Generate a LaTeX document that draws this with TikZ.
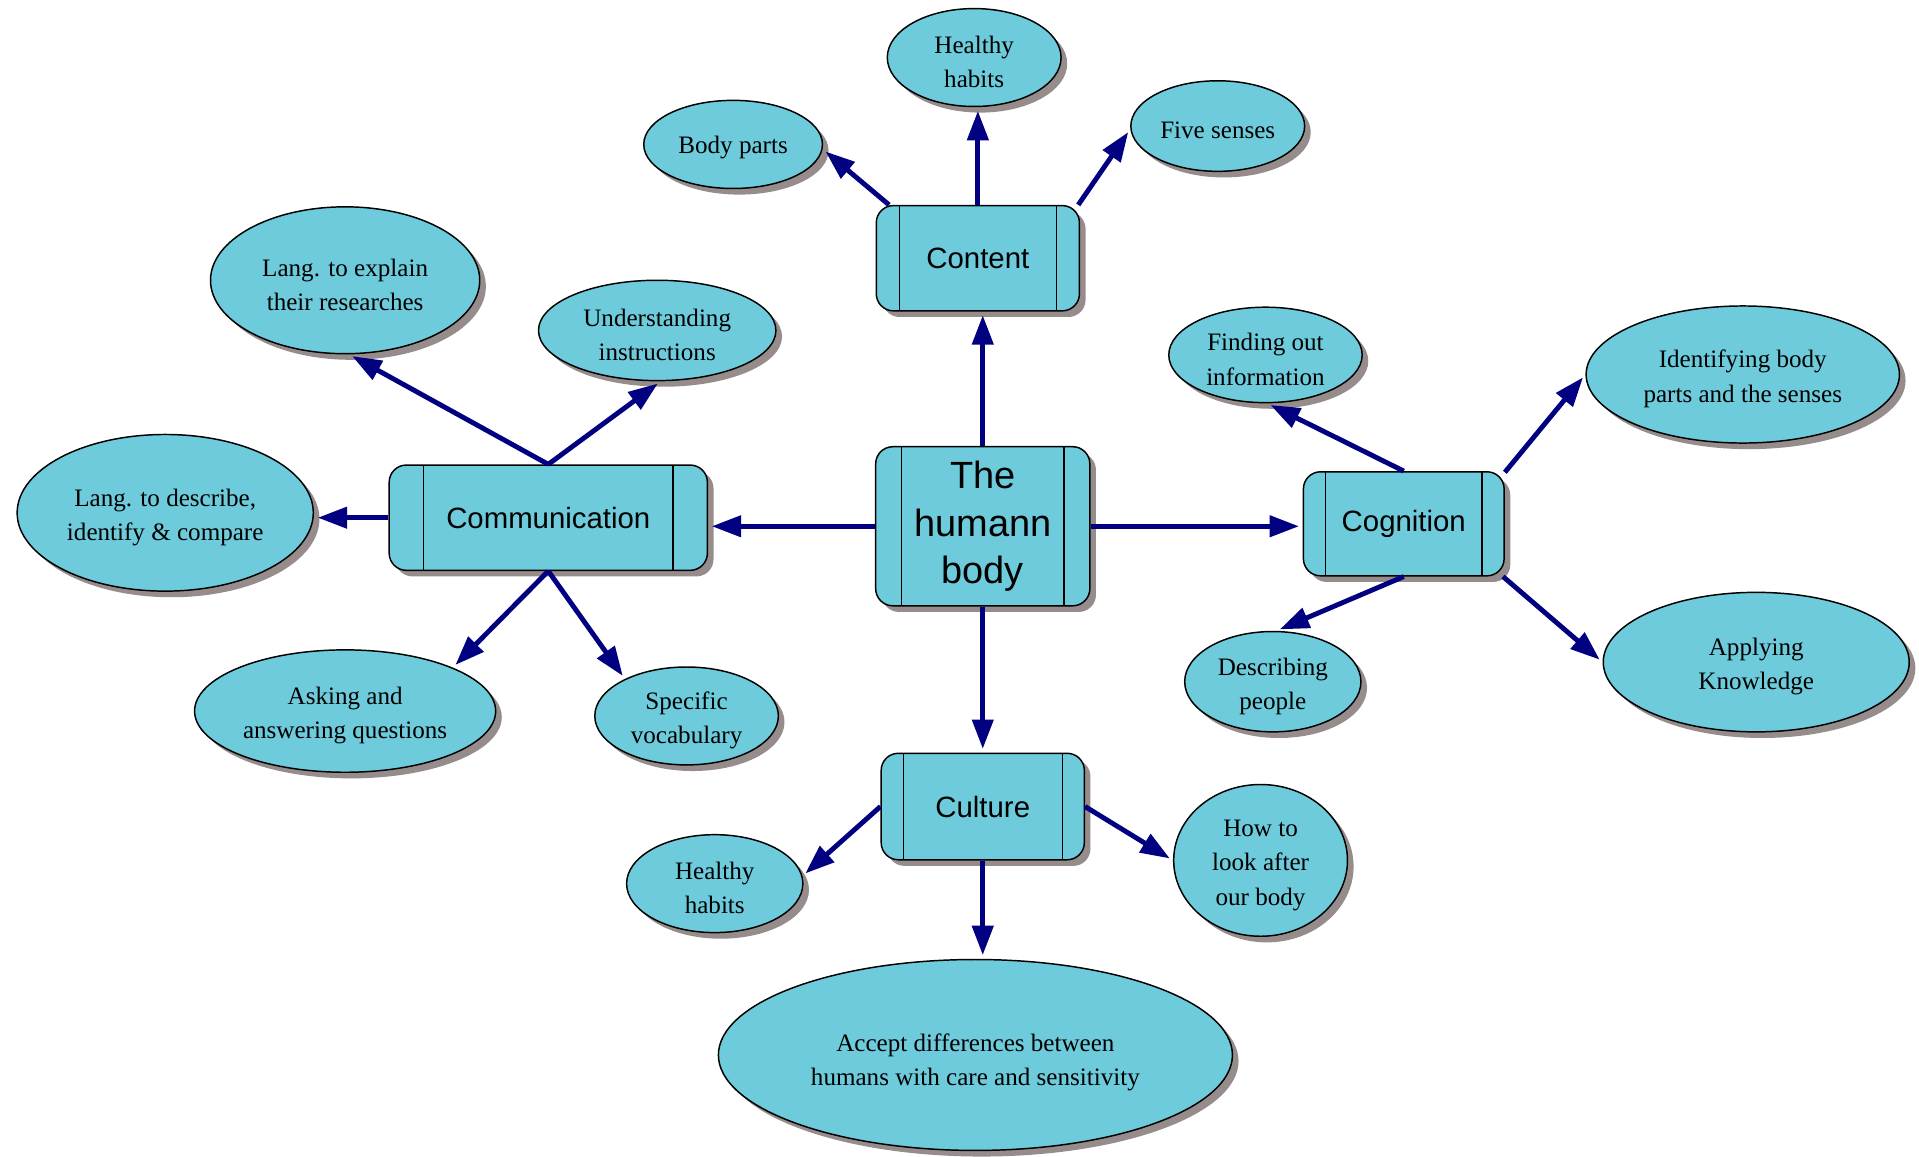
\documentclass[tikz,border=0pt]{standalone}
\usepackage{fontspec}
\setmainfont{Liberation Serif}
\setsansfont{Liberation Sans}
\usetikzlibrary{shapes.geometric,shadows,arrows.meta}
\definecolor{nodefill}{HTML}{6DCBDB}
\definecolor{shadowc}{HTML}{968C8C}
\definecolor{edgec}{HTML}{000080}
\newcommand\topstrut{\rule{0pt}{21.6pt}}
\tikzset{
  myshadow/.style={drop shadow={shadow xshift=5pt,shadow yshift=-5pt,fill=shadowc,opacity=1}},
  boxnode/.style={draw=black, line width=1.2pt, fill=nodefill, rounded corners=14pt,
    myshadow, inner sep=0pt, align=center,
    font=\sffamily\fontsize{24}{28}\selectfont,
    path picture={
      \draw[line width=1.1pt] ([xshift=#1]path picture bounding box.north west) -- ([xshift=#1]path picture bounding box.south west);
      \draw[line width=1.1pt] ([xshift=-#1]path picture bounding box.north east) -- ([xshift=-#1]path picture bounding box.south east);
    }},
  leaf/.style={ellipse, draw=black, line width=1.2pt, fill=nodefill, myshadow,
    inner sep=0pt, align=center, font=\rmfamily\fontsize{20.5}{28}\selectfont},
  oneline/.style={execute at begin node={\rule{0pt}{20pt}}},
  edge/.style={draw=edgec, line width=4pt, shorten >=3pt,
    -{Triangle[length=24pt,width=17pt]}}
}
\begin{document}
\begin{tikzpicture}[x=1pt,y=-1pt]
\useasboundingbox (0,0) rectangle (1568,945);
\fill[white] (0,0) rectangle (1568,945);

% main boxes
\node[boxnode=21pt, minimum width=175pt, minimum height=130pt,
  font=\sffamily\fontsize{31}{38.5}\selectfont] (hub) at (803,430) {The\\humann\\body};
\node[boxnode=19pt, minimum width=166pt, minimum height=86pt] (content) at (799,211) {Content};
\node[boxnode=28pt, minimum width=260pt, minimum height=86pt] (comm) at (448,423) {Communication};
\node[boxnode=18pt, minimum width=164pt, minimum height=85pt] (cog) at (1147,428) {Cognition};
\node[boxnode=18pt, minimum width=166pt, minimum height=87pt] (cult) at (803,659) {Culture};

% leaves
\node[leaf, minimum width=142pt, minimum height=80pt] (habitsA) at (796,47) {\topstrut Healthy\\habits};
\node[leaf, oneline, minimum width=146pt, minimum height=72pt] (bodyparts) at (599,118) {Body parts};
\node[leaf, oneline, minimum width=142pt, minimum height=74pt] (fivesenses) at (995,103) {Five senses};
\node[leaf, minimum width=220pt, minimum height=120pt] (langexp) at (282,229) {\topstrut Lang. to explain\\their researches};
\node[leaf, minimum width=194pt, minimum height=82pt] (underst) at (537,270) {\topstrut Understanding\\instructions};
\node[leaf, minimum width=242pt, minimum height=128pt] (langdesc) at (135,419) {\topstrut Lang. to describe,\\identify \& compare};
\node[leaf, minimum width=246pt, minimum height=100pt] (asking) at (282,581) {\topstrut Asking and\\answering questions};
\node[leaf, minimum width=150pt, minimum height=80pt] (specific) at (561,585) {\topstrut Specific\\vocabulary};
\node[leaf, minimum width=158pt, minimum height=78pt] (finding) at (1034,290) {\topstrut Finding out\\information};
\node[leaf, minimum width=256pt, minimum height=112pt] (identify) at (1424,306) {\topstrut Identifying body\\parts and the senses};
\node[leaf, minimum width=144pt, minimum height=82pt] (describing) at (1040,557) {\topstrut Describing\\people};
\node[leaf, minimum width=250pt, minimum height=114pt] (applying) at (1435,541) {\topstrut Applying\\Knowledge};
\node[leaf, minimum width=144pt, minimum height=80pt] (habitsB) at (584,722) {\topstrut Healthy\\habits};
\node[leaf, minimum width=142pt, minimum height=124pt] (howto) at (1030,703) {\topstrut How to\\look after\\our body};
\node[leaf, minimum width=420pt, minimum height=156pt] (accept) at (797,862) {\rule{0pt}{27pt}Accept differences between\\humans with care and sensitivity};

% edges from hub
\draw[edge] (hub.north) -- (hub.north |- content.south);
\draw[edge] (hub.west) -- (hub.west -| comm.east);
\draw[edge] (hub.east) -- (hub.east -| cog.west);
\draw[edge] (hub.south) -- (cult.north);

% content
\draw[edge] (content.149) -- (bodyparts.-3);
\draw[edge] (content.north) -- (content.north |- habitsA.south);
\draw[edge] (content.28) -- (fivesenses.182);

% communication
\draw[edge] (comm.north) -- (langexp.-87);
\draw[edge] (comm.north) -- (underst.-86);
\draw[edge] (comm.west) -- (comm.west -| langdesc.east);
\draw[edge] (comm.south) -- (asking.22);
\draw[edge] (comm.south) -- (specific.149);

% cognition
\draw[edge] (cog.north) -- (finding.-88);
\draw[edge] (cog.27) -- (identify.west);
\draw[edge] (cog.south) -- (describing.86);
\draw[edge] (cog.-28) -- (applying.west);

% culture
\draw[edge] (cult.west) -- (habitsB.5);
\draw[edge] (cult.east) -- (howto.west);
\draw[edge] (cult.south) -- (cult.south |- accept.north);
\end{tikzpicture}
\end{document}
